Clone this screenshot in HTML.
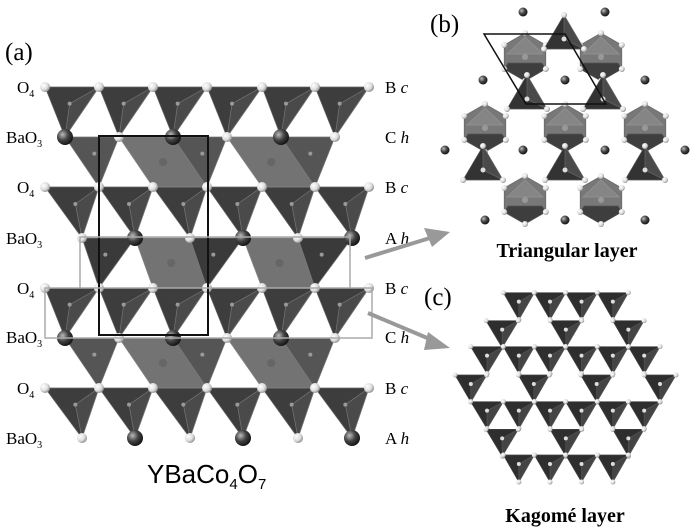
<!DOCTYPE html>
<html><head><meta charset="utf-8"><style>
html,body{margin:0;padding:0;background:#fff;}
svg{display:block;}
.s{font-family:"Liberation Serif",serif;}
</style></head><body>
<svg id="g" width="700" height="532" viewBox="0 0 700 532" xmlns="http://www.w3.org/2000/svg">
<defs>
<radialGradient id="wo" cx="35%" cy="35%" r="70%"><stop offset="0" stop-color="#fff"/><stop offset="0.6" stop-color="#ddd"/><stop offset="1" stop-color="#888"/></radialGradient>
<radialGradient id="ba" cx="35%" cy="35%" r="70%"><stop offset="0" stop-color="#bbb"/><stop offset="0.5" stop-color="#444"/><stop offset="1" stop-color="#111"/></radialGradient>
</defs>
<g id="poly"></g>
<g id="atoms"></g>
<rect x="99" y="136" width="109" height="199" fill="none" stroke="#111" stroke-width="2"/>
<polyline points="80,288 80,237 350,237 350,288" fill="none" stroke="#aaa" stroke-width="1.5"/>
<rect x="45" y="288" width="327" height="50" fill="none" stroke="#aaa" stroke-width="1.5"/>
<text class="s" x="5" y="60" font-size="25">(a)</text>
<g class="s" font-size="17">
<text x="17" y="93">O<tspan font-size="10" dy="4">4</tspan></text>
<text x="6" y="143">BaO<tspan font-size="10" dy="4">3</tspan></text>
<text x="17" y="193">O<tspan font-size="10" dy="4">4</tspan></text>
<text x="6" y="244">BaO<tspan font-size="10" dy="4">3</tspan></text>
<text x="17" y="294">O<tspan font-size="10" dy="4">4</tspan></text>
<text x="6" y="343">BaO<tspan font-size="10" dy="4">3</tspan></text>
<text x="17" y="394">O<tspan font-size="10" dy="4">4</tspan></text>
<text x="6" y="444">BaO<tspan font-size="10" dy="4">3</tspan></text>
<text x="385" y="93">B <tspan font-style="italic">c</tspan></text>
<text x="385" y="143">C <tspan font-style="italic">h</tspan></text>
<text x="385" y="193">B <tspan font-style="italic">c</tspan></text>
<text x="385" y="244">A <tspan font-style="italic">h</tspan></text>
<text x="385" y="294">B <tspan font-style="italic">c</tspan></text>
<text x="385" y="343">C <tspan font-style="italic">h</tspan></text>
<text x="385" y="394">B <tspan font-style="italic">c</tspan></text>
<text x="385" y="444">A <tspan font-style="italic">h</tspan></text>
</g>
<text x="147" y="483" font-family="Liberation Sans, sans-serif" font-size="26">YBaCo<tspan font-size="15" dy="6">4</tspan><tspan dy="-6">O</tspan><tspan font-size="15" dy="6">7</tspan></text>
<line x1="365" y1="258" x2="430" y2="238" stroke="#999" stroke-width="4"/>
<polygon points="450,232 424,228 432,247" fill="#999"/>
<line x1="368" y1="313" x2="432" y2="340" stroke="#999" stroke-width="4"/>
<polygon points="450,348 428,332 424,350" fill="#999"/>
<g id="pb"></g>
<polygon points="484,34 565,34 606,104 526,104" fill="none" stroke="#111" stroke-width="1.5"/>
<text class="s" x="430" y="32" font-size="25">(b)</text>
<text class="s" x="567" y="257" font-size="20" font-weight="bold" text-anchor="middle">Triangular layer</text>
<g id="pc"></g>
<text class="s" x="424" y="305" font-size="25">(c)</text>
<text class="s" x="565" y="522" font-size="20" font-weight="bold" text-anchor="middle">Kagomé layer</text>
</svg>
<script>
var NS="http://www.w3.org/2000/svg";
function el(p,t,a){var e=document.createElementNS(NS,t);for(var k in a)e.setAttribute(k,a[k]);document.getElementById(p).appendChild(e);return e;}
function poly(p,pts,fill,st){el(p,"polygon",{points:pts.map(function(q){return q.join(",")}).join(" "),fill:fill,stroke:st||"#777","stroke-width":0.7});}
var O=[45,99,153,207,262,315,369];
var R1=[65,119,173,227,281,335];
var R2=[82,135,190,243,298,352];
var oy=[87,187,288,388], ry=[137,238,338,438];
var rows=[R1,R2,R1,R2];
for(var b=0;b<4;b++){var y0=oy[b],y1=ry[b],R=rows[b];
 for(var i=0;i<6;i++){var cx=(O[i]+O[i+1]+R[i])/3,cy=(2*y0+y1)/3;
  poly("poly",[[O[i],y0],[O[i+1],y0],[R[i],y1]],"#3d3d3d","#666");
  poly("poly",[[O[i+1],y0],[R[i],y1],[cx,cy]],"#4a4a4a","#777");
  el("poly","circle",{cx:cx,cy:cy,r:2,fill:"#999"});}}
for(var b=0;b<3;b++){var y0=ry[b],y1=oy[b+1],T=rows[b];
 var dark=b==1?"#3a3a3a":"#555";
 for(var i=0;i<6;i+=2){
  if(i<4){poly("poly",[[T[i+1],y0],[T[i+2],y0],[O[i+3],y1],[O[i+2],y1]],"#737373","#888");
   el("poly","circle",{cx:(T[i+1]+T[i+2]+O[i+3]+O[i+2])/4,cy:(y0+y1)/2,r:4,fill:"#666"});}
  poly("poly",[[T[i],y0],[T[i+1],y0],[O[i+1],y1]],dark,"#777");
  el("poly","circle",{cx:(T[i]+T[i+1]+O[i+1])/3,cy:(2*y0+y1)/3,r:2,fill:"#999"});}}
for(var b=0;b<4;b++){for(var i=0;i<7;i++)el("atoms","circle",{cx:O[i],cy:oy[b],r:5,fill:"url(#wo)"});
 var R=rows[b];for(var i=0;i<6;i++){var isBa=(b%2==0)?(i%2==0):(i%2==1);
  el("atoms","circle",{cx:R[i],cy:ry[b],r:isBa?8:5,fill:isBa?"url(#ba)":"url(#wo)"});}}
var hx=[[525,57],[601,57],[485,128],[565,128],[645,128],[525,200],[601,200]];
hx.forEach(function(c){var pts=[];for(var k=0;k<6;k++){var a=Math.PI/3*k+Math.PI/6;pts.push([c[0]+24*Math.cos(a),c[1]+24*Math.sin(a)]);}
 poly("pb",pts,"#787878","#666");
 poly("pb",[pts[0],pts[1],pts[2],[c[0]-17,c[1]+6],[c[0]+17,c[1]+6]],"#3e3e3e","#555");
 poly("pb",[[c[0]-18,c[1]-3],[c[0]+18,c[1]-3],[c[0],c[1]-20]],"#858585","#959595");
 el("pb","circle",{cx:c[0],cy:c[1],r:3,fill:"#999"});
 pts.forEach(function(p){el("pb","circle",{cx:p[0],cy:p[1],r:3,fill:"url(#wo)"});});});
var tr=[[564,37],[527,97],[603,97],[483,168],[565,168],[645,168]];
tr.forEach(function(c){var up=[c[0],c[1]-22],l=[c[0]-20,c[1]+12],r=[c[0]+20,c[1]+12];
 poly("pb",[up,l,r],"#333","#555");poly("pb",[up,[c[0],c[1]+2],r],"#4a4a4a","#666");
 el("pb","circle",{cx:c[0],cy:c[1]+2,r:2.5,fill:"#ddd"});
 [up,l,r].forEach(function(p){el("pb","circle",{cx:p[0],cy:p[1],r:3,fill:"url(#wo)"});});});
[[523,12],[605,12],[483,80],[565,80],[645,80],[445,150],[523,150],[605,150],[685,150],[485,220],[565,220],[645,220]].forEach(function(c){el("pb","circle",{cx:c[0],cy:c[1],r:4.5,fill:"url(#ba)"});});
var krows=[[68,[[190,283],[283,377],[377,472],[472,565]]],[152,[[138,235],[330,425],[518,612]]],[230,[[92,190],[190,283],[283,377],[377,472],[472,565],[565,660]]],[315,[[45,140],[235,328],[422,518],[612,708]]],[395,[[92,190],[190,283],[283,377],[377,472],[472,565],[565,660]]],[478,[[138,235],[330,425],[518,612]]],[555,[[190,283],[283,377],[377,472],[472,565]]]];
krows.forEach(function(r){var y=270+r[0]/3;r[1].forEach(function(s){var a=440+s[0]/3,b=440+s[1]/3,m=(a+b)/2,h=27;
 poly("pc",[[a,y],[b,y],[m,y+h]],"#2e2e2e","#444");poly("pc",[[b,y],[m,y+h],[m,y+9]],"#444","#555");
 el("pc","circle",{cx:m,cy:y+9,r:2,fill:"#ddd"});
 [[a,y],[b,y],[m,y+h]].forEach(function(p){el("pc","circle",{cx:p[0],cy:p[1],r:2.5,fill:"url(#wo)"});});});});
</script>
</body></html>
